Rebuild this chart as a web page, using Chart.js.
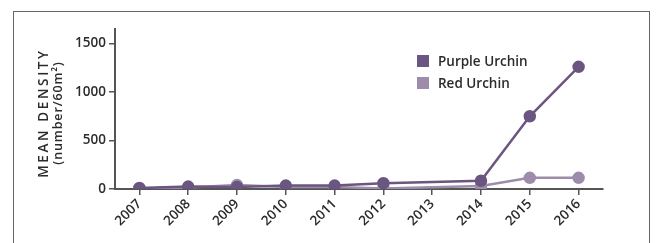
<!DOCTYPE html>
<html>
<head>
<meta charset="utf-8">
<script src="https://cdn.jsdelivr.net/npm/chart.js@4/dist/chart.umd.min.js"></script>
<style>
  body { margin:0; background:#fff; }
  #wrap { position:relative; width:659px; height:243px; }
  #frame { position:absolute; left:13px; top:11px; width:637px; height:240px;
           border:1px solid #666; border-bottom:none; box-sizing:border-box; }
  #legend { position:absolute; left:417px; top:55px; font-family:"Open Sans", sans-serif;
            font-size:13.5px; font-weight:600; color:#2b2b2b; }
  #legend div { height:22px; line-height:13px; white-space:nowrap; }
  #legend span { display:inline-block; width:12px; height:12px; vertical-align:-1px; margin-right:9px; }
</style>
</head>
<body>
<div id="wrap">
  <div id="frame"></div>
  <canvas id="myChart" width="659" height="243"></canvas>
  <div id="legend"></div>
</div>
<script>
var years = ["2007","2008","2009","2010","2011","2012","2013","2014","2015","2016"];
var purple = [10, 25, 20, 35, 35, 60, null, 85, 750, 1260];
var red = [5, 15, 40, 20, 20, 5, null, 30, 115, 115];
var seriesNames = ["Purple Urchin", "Red Urchin"];
var yTicks = [0, 500, 1000, 1500];
var yTitle = ["MEAN DENSITY", "(number/60m\u00B2)"];

(function(){
    var colors = ["#6b5581", "#9e8cab"];
    var font = {family: "Open Sans", size: 13.5, weight: "600"};

    // y title drawn by hand so it can be letter spaced
    var titlePlugin = {
        id: "yTitle",
        afterDraw: function(chart){
            var c = chart.ctx, a = chart.chartArea;
            var cy = (a.top + a.bottom) / 2 + 4;
            c.save();
            c.fillStyle = "#2b2b2b";
            c.textAlign = "center";
            c.textBaseline = "middle";
            c.translate(44, cy);
            c.rotate(-Math.PI / 2);
            c.font = "600 13.5px 'Open Sans'";
            c.letterSpacing = "2.6px";
            c.fillText(yTitle[0], 0, 0);
            c.translate(0, 14);
            c.font = "600 12.5px 'Open Sans'";
            c.letterSpacing = "0.9px";
            c.fillText(yTitle[1], 0, 0);
            c.restore();
        }
    };

    var ctx = document.getElementById("myChart").getContext("2d");
    var myChart = new Chart(ctx, {
        type: 'line',
        data: {
            labels: years,
            datasets: [
                {label: seriesNames[0], data: purple, borderColor: colors[0], backgroundColor: colors[0],
                 borderWidth: 2.5, pointRadius: 5, pointHoverRadius: 5, spanGaps: true},
                {label: seriesNames[1], data: red, borderColor: colors[1], backgroundColor: colors[1],
                 borderWidth: 2.5, pointRadius: 5, pointHoverRadius: 5, spanGaps: true}
            ]
        },
        plugins: [titlePlugin],
        options: {
            responsive: false,
            animation: false,
            layout: {padding: {left: 30, top: 29, right: 56, bottom: 0}},
            plugins: {legend: {display: false}, tooltip: {enabled: false}},
            scales: {
                x: {
                    offset: true,
                    grid: {drawOnChartArea: false, tickLength: 6, color: "#555", lineWidth: 1.5, offset: false},
                    border: {color: "#555", width: 2},
                    ticks: {color: "#2b2b2b", font: font, maxRotation: 45, minRotation: 45, autoSkip: false, padding: 1},
                    afterFit: function(s){ s.height = 54; }
                },
                y: {
                    min: 0, max: 1650,
                    afterBuildTicks: function(s){ s.ticks = yTicks.map(function(v){ return {value: v}; }); },
                    grid: {drawOnChartArea: false, tickLength: 6, color: "#555", lineWidth: 1.5},
                    border: {color: "#555", width: 2},
                    ticks: {color: "#2b2b2b", font: font, padding: 3, callback: function(v){ return String(v); }},
                    afterFit: function(s){ s.width = 85; }
                }
            }
        }
    });

    var lg = document.getElementById("legend");
    myChart.data.datasets.forEach(function(d){
        var row = document.createElement("div");
        var sw = document.createElement("span");
        sw.style.background = d.backgroundColor;
        row.appendChild(sw);
        row.appendChild(document.createTextNode(d.label));
        lg.appendChild(row);
    });
})()
</script>
</body>
</html>
